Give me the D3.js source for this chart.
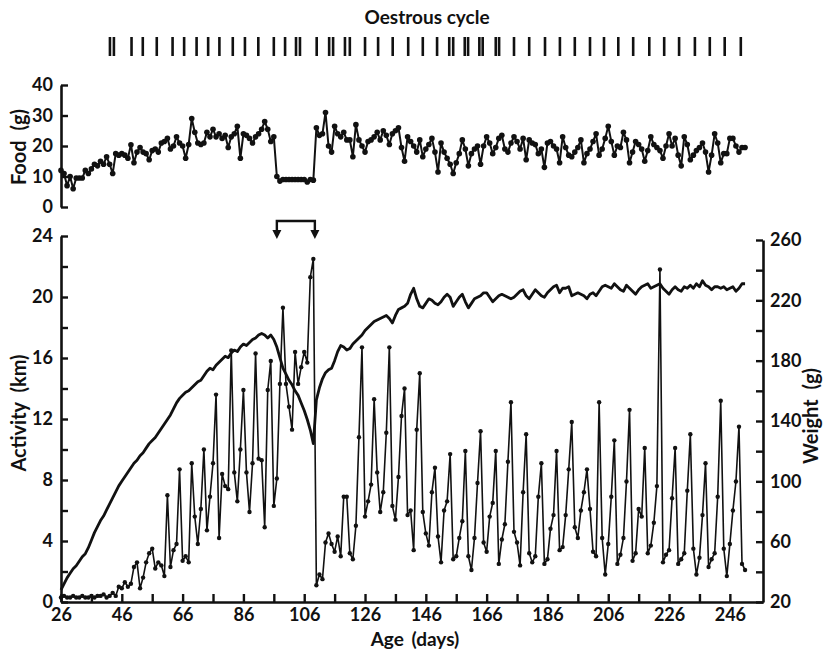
<!DOCTYPE html>
<html>
<head>
<meta charset="utf-8">
<script src="https://cdn.jsdelivr.net/npm/d3@7"></script>
<style>
  body { margin: 0; background: #fff; }
  svg text { font-family: Lato, "Open Sans", sans-serif; font-weight: 700; fill: #111; }
</style>
</head>
<body>
<svg id="chart" width="825" height="651"></svg>
<script>
// one value per day, starting at day 26
const firstDay = 26;

// running wheel activity (km / day)
const activityKm = [
  0.3, 0.4, 0.3, 0.3, 0.4, 0.3, 0.3, 0.4, 0.3, 0.3, 0.4, 0.3, 0.4,
  0.4, 0.5, 0.3, 0.4, 0.6, 0.4, 1.0, 0.9, 1.3, 1.0, 1.2,
  2.3, 2.6, 0.9, 1.6, 2.6, 3.2, 3.5, 2.2, 2.6, 2.4, 1.7,
  7.0, 2.3, 3.4, 3.8, 8.7, 2.7, 3.0, 2.6, 9.1, 5.6,
  3.8, 6.1, 10.0, 4.7, 6.9, 9.1, 13.6, 4.2, 8.4, 7.6,
  7.4, 16.5, 8.5, 6.6, 10.0, 13.9, 8.5, 5.9, 9.1, 16.3,
  9.4, 9.3, 4.9, 13.9, 15.8, 6.3, 8.1, 14.3, 19.3, 14.3,
  12.8, 11.3, 16.4, 14.3, 15.4, 16.4, 15.7, 21.3, 22.5, 1.1,
  1.8, 1.5, 3.9, 4.5, 3.8, 3.3, 4.3, 3.0, 6.9, 6.9,
  3.2, 2.8, 5.0, 10.8, 16.7, 5.6, 6.6, 7.7, 13.3, 8.5,
  5.9, 7.2, 11.1, 16.7, 6.3, 5.4, 8.2, 12.2, 14.0, 5.7,
  6.0, 3.4, 11.3, 15.0, 5.9, 4.5, 3.7, 7.2, 8.8, 4.3,
  2.6, 6.0, 6.6, 9.7, 2.8, 3.0, 4.2, 5.3, 9.9, 3.0,
  2.1, 4.2, 7.8, 11.2, 3.9, 3.3, 5.6, 6.5, 9.9, 2.5,
  4.1, 5.1, 9.2, 13.1, 4.6, 3.9, 2.4, 7.2, 11.0, 3.2,
  2.6, 3.0, 6.9, 9.1, 2.5, 2.8, 4.8, 5.7, 9.9, 3.4,
  3.6, 5.7, 8.7, 11.8, 4.9, 4.2, 6.0, 7.2, 8.7, 6.1,
  3.3, 3.0, 13.1, 4.2, 1.8, 3.8, 6.9, 10.6, 2.5, 3.1,
  4.2, 7.9, 12.6, 2.7, 3.2, 6.1, 5.6, 10.1, 3.2, 3.7,
  5.2, 7.6, 21.8, 2.6, 3.1, 3.4, 6.8, 10.1, 2.5, 2.8,
  3.2, 7.3, 11.0, 3.5, 1.8, 2.9, 5.7, 9.1, 2.3, 2.8,
  3.2, 6.9, 13.2, 3.5, 1.7, 3.8, 6.0, 7.9, 11.5, 2.5, 2.1
];

// food intake (g / day)
const foodG = [
  12, 11, 7, 10, 6, 9.5, 9.5, 9.5, 12, 11,
  12.5, 14, 13.5, 15, 14, 16.5, 14, 11, 17.5, 17,
  17.5, 17, 16, 20.4, 14.5, 18, 19.5, 18, 17.5, 15.5,
  18.5, 19, 18, 21, 21.5, 22.5, 19, 20, 23, 21,
  20, 16, 20.5, 29, 24.5, 21, 20.5, 21, 24.5, 23,
  25.5, 23, 24, 22.5, 23.5, 19.5, 23, 24, 26.5, 16,
  24, 23.5, 22.5, 21, 23, 24, 25.5, 28, 25.5, 21.5,
  23, 10, 8.5, 9, 9, 9, 9, 9, 9, 9,
  9, 8.2, 9, 8.8, 26, 23.5, 24, 31, 20, 18,
  26.5, 24, 23, 24.5, 22, 22, 16.5, 27, 22, 20,
  18, 21.5, 22, 23, 24.5, 22, 25, 23.5, 20.5, 24,
  25, 26, 19.5, 15, 23, 21.5, 20, 18, 22, 16.5,
  19, 20.5, 22.5, 18, 11.5, 21, 18, 16, 14, 11,
  14.5, 17.5, 22, 19, 13.5, 17.5, 19, 20, 14, 20,
  23, 21, 17.5, 19.5, 22.5, 23.5, 19, 18, 21, 23,
  21.5, 19, 22.5, 15.5, 22, 21, 20.5, 17.5, 19, 13,
  21, 21.5, 20, 19, 14.5, 23, 19.5, 17, 16.5, 18,
  19.5, 22, 14.5, 17.5, 19, 21.5, 24, 17, 19, 22.5,
  26.5, 21.5, 17, 20, 19.5, 24.5, 22, 14.5, 18, 21.5,
  20.5, 19, 15, 18.5, 23, 20.5, 19.5, 18.5, 16, 20,
  24, 20, 22.5, 17, 13.5, 23, 20.5, 15.5, 17, 18.5,
  19.5, 21, 18, 11.5, 17, 24, 21, 14.5, 17.5, 17.5,
  22.5, 22.5, 20, 18, 19.5, 19.5
];

// body weight (g)
const weightG = [
  28, 32, 36, 39, 42, 44, 47, 50, 52, 56,
  61, 66, 70, 74, 77, 81, 85, 89, 93, 97,
  100, 103, 106, 109, 112, 114, 117, 119, 122, 125,
  127, 129, 132, 135, 138, 141, 144, 148, 152, 155,
  157, 159, 160, 162, 164, 166, 167, 170, 173, 175,
  174, 177, 179, 181, 183, 182, 185, 187, 186, 189,
  191, 190, 192, 194, 195, 197, 198, 197, 195, 197,
  194, 189, 182, 175, 171, 167, 164, 160, 157, 152,
  147, 141, 134, 125, 154, 162, 168, 172, 174, 175,
  180, 186, 190, 189, 187, 188, 191, 193, 195, 197,
  200, 202, 204, 206, 207, 208, 209, 210, 208, 205,
  210, 214, 215, 216, 218, 224, 228, 221, 216, 215,
  218, 221, 220, 218, 217, 219, 222, 224, 222, 216,
  219, 222, 224, 219, 215, 218, 221, 222, 223, 225,
  225, 222, 219, 221, 223, 224, 223, 222, 221, 222,
  224, 226, 227, 223, 221, 224, 227, 225, 223, 222,
  225, 227, 229, 230, 225, 228, 228, 229, 223, 224,
  225, 224, 223, 221, 224, 225, 223, 226, 229, 230,
  229, 228, 231, 229, 227, 226, 230, 228, 226, 224,
  227, 229, 230, 231, 228, 229, 230, 231, 228, 226,
  224, 227, 229, 227, 226, 229, 228, 230, 228, 231,
  229, 233, 230, 229, 227, 229, 229, 228, 229, 227,
  228, 229, 226, 228, 231, 231
];

// days on which oestrus was recorded
const oestrusDays = [
  42.1, 43.4, 49.2, 52.9, 57.5, 62.7, 66.5, 70.6, 74.4, 78.1,
  82.5, 86.5, 90.9, 96.0, 99.7, 103.3, 104.6, 110.1, 114.2, 115.5,
  119.4, 121.0, 126.0, 130.3, 135.1, 140.2, 145.0, 149.7, 153.7, 155.0,
  158.8, 159.9, 163.6, 164.7, 169.0, 170.1, 175.0, 180.0, 185.2, 190.1,
  195.0, 200.0, 204.6, 209.3, 214.2, 219.5, 224.4, 229.3, 234.5, 239.4,
  244.3, 249.6
];

// food restriction period (arrow bracket)
const restrictionDays = [97, 109.5];

// ticks
const xTicks = [26, 36, 46, 56, 66, 76, 86, 96, 106, 116, 126, 136, 146, 156, 166, 176, 186, 196, 206, 216, 226, 236, 246];
const xLabels = [26, 46, 66, 86, 106, 126, 146, 166, 186, 206, 226, 246];
const activityTicks = [0, 2, 4, 6, 8, 10, 12, 14, 16, 18, 20, 22, 24];
const activityLabels = [0, 4, 8, 12, 16, 20, 24];
const weightTicks = [20, 40, 60, 80, 100, 120, 140, 160, 180, 200, 220, 240, 260];
const weightLabels = [20, 60, 100, 140, 180, 220, 260];
const foodTicks = [0, 10, 20, 30, 40];

const svg = d3.select("#chart");

const xScale = d3.scaleLinear().domain([26, 257]).range([61, 763.3]);
const yAct = d3.scaleLinear().domain([0, 24]).range([602, 236]);
const yWt = d3.scaleLinear().domain([20, 260]).range([602, 240]);
const yFood = d3.scaleLinear().domain([0, 40]).range([207, 85]);

const dayOf = (d, i) => xScale(firstDay + i);

// style axes: thick black lines, inward ticks
const styleAxis = g => {
    g.select(".domain").attr("stroke", "#111").attr("stroke-width", 2.6);
    g.selectAll(".tick line").attr("stroke", "#111").attr("stroke-width", 2.4);
    g.selectAll(".tick text").style("font-size", "18px").attr("fill", "#111");
};

// --- Oestrous cycle ---
svg.append("text")
    .attr("x", 427).attr("y", 24)
    .attr("text-anchor", "middle")
    .style("font-size", "19px")
    .text("Oestrous cycle");

svg.append("g")
    .selectAll("line")
    .data(oestrusDays)
    .join("line")
    .attr("x1", d => xScale(d)).attr("x2", d => xScale(d))
    .attr("y1", 37).attr("y2", 56)
    .attr("stroke", "#111")
    .attr("stroke-width", 2.6);

// --- Food panel ---
svg.append("g")
    .attr("transform", "translate(61,0)")
    .call(d3.axisLeft(yFood).tickValues(foodTicks).tickSize(-7).tickSizeOuter(0).tickPadding(8))
    .call(styleAxis);

svg.append("text")
    .attr("transform", "translate(26,147) rotate(-90)")
    .attr("text-anchor", "middle")
    .style("font-size", "20px")
    .style("word-spacing", "5px")
    .text("Food (g)");

svg.append("path")
    .datum(foodG)
    .attr("fill", "none")
    .attr("stroke", "#111")
    .attr("stroke-width", 2)
    .attr("stroke-linejoin", "round")
    .attr("d", d3.line().x(dayOf).y(d => yFood(d)));

svg.append("g")
    .selectAll("circle")
    .data(foodG)
    .join("circle")
    .attr("cx", dayOf)
    .attr("cy", d => yFood(d))
    .attr("r", 2.8)
    .attr("fill", "#111");

// --- Main panel axes ---
svg.append("g")
    .attr("transform", "translate(61,0)")
    .call(d3.axisLeft(yAct).tickValues(activityTicks).tickSize(-7).tickSizeOuter(0).tickPadding(8)
        .tickFormat(d => activityLabels.includes(d) ? d : ""))
    .call(styleAxis);

svg.append("g")
    .attr("transform", "translate(763,0)")
    .call(d3.axisRight(yWt).tickValues(weightTicks).tickSize(-7).tickSizeOuter(0).tickPadding(7)
        .tickFormat(d => weightLabels.includes(d) ? d : ""))
    .call(styleAxis);

svg.append("g")
    .attr("transform", "translate(0,602)")
    .call(d3.axisBottom(xScale).tickValues(xTicks).tickSize(-8).tickSizeOuter(0).tickPadding(6)
        .tickFormat(d => xLabels.includes(d) ? d : ""))
    .call(styleAxis);

svg.append("text")
    .attr("transform", "translate(26,413) rotate(-90)")
    .attr("text-anchor", "middle")
    .style("font-size", "20px")
    .style("word-spacing", "5px")
    .text("Activity (km)");

svg.append("text")
    .attr("transform", "translate(818,416) rotate(-90)")
    .attr("text-anchor", "middle")
    .style("font-size", "20px")
    .style("word-spacing", "5px")
    .text("Weight (g)");

svg.append("text")
    .attr("x", 415).attr("y", 646)
    .attr("text-anchor", "middle")
    .style("font-size", "19px")
    .style("word-spacing", "3px")
    .text("Age (days)");

// --- Weight line ---
svg.append("path")
    .datum(weightG)
    .attr("fill", "none")
    .attr("stroke", "#111")
    .attr("stroke-width", 2.8)
    .attr("stroke-linejoin", "round")
    .attr("d", d3.line().x(dayOf).y(d => yWt(d)));

// --- Activity line with points ---
svg.append("path")
    .datum(activityKm)
    .attr("fill", "none")
    .attr("stroke", "#111")
    .attr("stroke-width", 1.6)
    .attr("stroke-linejoin", "round")
    .attr("d", d3.line().x(dayOf).y(d => yAct(d)));

svg.append("g")
    .selectAll("circle")
    .data(activityKm)
    .join("circle")
    .attr("cx", dayOf)
    .attr("cy", d => yAct(d))
    .attr("r", 2.2)
    .attr("fill", "#111");

// --- Restriction bracket with arrows ---
const bx0 = xScale(restrictionDays[0]);
const bx1 = xScale(restrictionDays[1]);
const bracket = svg.append("g").attr("stroke", "#111").attr("fill", "#111");
bracket.append("path")
    .attr("fill", "none")
    .attr("stroke-width", 2.4)
    .attr("d", `M${bx0},232V221H${bx1}V232`);
[bx0, bx1].forEach(bx => {
    bracket.append("path")
        .attr("stroke", "none")
        .attr("d", `M${bx - 4.5},230L${bx + 4.5},230L${bx},239Z`);
});
</script>
</body>
</html>
